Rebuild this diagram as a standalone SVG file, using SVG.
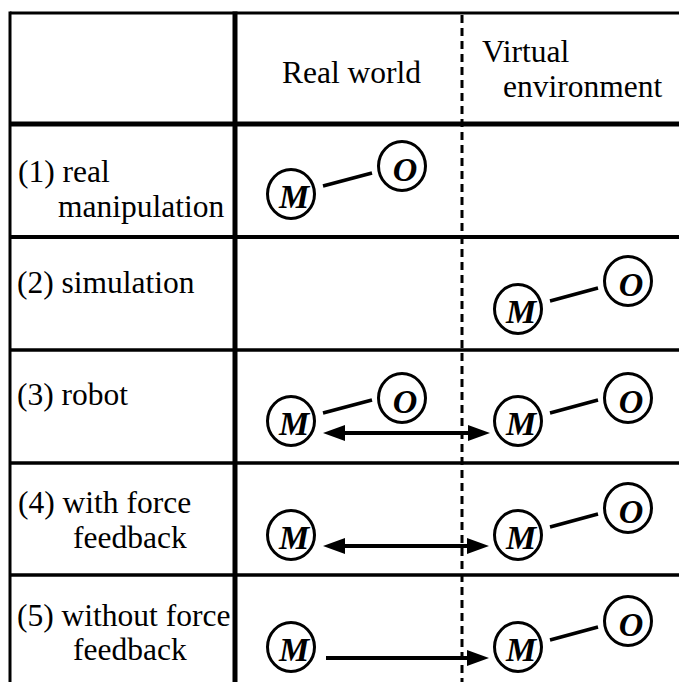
<svg xmlns="http://www.w3.org/2000/svg" width="679" height="682" viewBox="0 0 679 682">
<defs>
<style>
.lbl{font-family:"Liberation Serif","Times New Roman",serif;font-size:31.5px;fill:#000}
.nd ellipse{fill:#fff;stroke:#000;stroke-width:3}
.nd text{font-family:"Liberation Serif","Times New Roman",serif;font-size:34px;font-weight:bold;font-style:italic;text-anchor:middle;fill:#000}
.grid{stroke:#000;fill:none}
.link{stroke:#000;stroke-width:3.5;fill:none}
.arr{stroke:#000;stroke-width:4;fill:none}
</style>
<marker id="ah" viewBox="0 0 22 16" refX="12" refY="8" markerWidth="22" markerHeight="16" markerUnits="userSpaceOnUse" orient="auto-start-reverse">
<path d="M0,0 L22,8 L0,16 z" fill="#000"/>
</marker>
</defs>
<rect width="679" height="682" fill="#fff"/>
<g id="table" class="grid">
<line x1="10" y1="13" x2="679" y2="13" stroke-width="3"/>
<line x1="10" y1="124" x2="679" y2="124" stroke-width="5"/>
<line x1="10" y1="237" x2="679" y2="237" stroke-width="4"/>
<line x1="10" y1="350" x2="679" y2="350" stroke-width="3.5"/>
<line x1="10" y1="463" x2="679" y2="463" stroke-width="3.5"/>
<line x1="10" y1="575" x2="679" y2="575" stroke-width="3.5"/>
<line x1="10" y1="11.5" x2="10" y2="682" stroke-width="3"/>
<line x1="235" y1="11.5" x2="235" y2="682" stroke-width="5"/>
<line x1="462" y1="15" x2="462" y2="682" stroke-width="3" stroke-dasharray="8,5"/>
</g>
<g id="labels" class="lbl">
<text x="282" y="83">Real world</text>
<text x="482" y="62">Virtual</text>
<text x="503" y="97">environment</text>
<text x="18" y="182">(1) real</text>
<text x="58" y="217">manipulation</text>
<text x="17" y="293">(2) simulation</text>
<text x="17" y="405">(3) robot</text>
<text x="18" y="513">(4) with force</text>
<text x="73" y="548">feedback</text>
<text x="17" y="626">(5) without force</text>
<text x="73" y="660">feedback</text>
</g>
<g id="connectors">
<line class="link" x1="323" y1="186" x2="372" y2="173"/>
<line class="link" x1="550" y1="301" x2="598" y2="288"/>
<line class="link" x1="323" y1="413" x2="372" y2="400"/>
<line class="link" x1="550" y1="413" x2="598" y2="400"/>
<line class="link" x1="550" y1="527" x2="598" y2="514"/>
<line class="link" x1="550" y1="640" x2="598" y2="627"/>
<line class="arr" x1="333" y1="433" x2="480" y2="433" marker-start="url(#ah)" marker-end="url(#ah)"/>
<line class="arr" x1="333" y1="546" x2="479" y2="546" marker-start="url(#ah)" marker-end="url(#ah)"/>
<line class="arr" x1="326" y1="658" x2="479" y2="658" marker-end="url(#ah)"/>
</g>
<g id="n1-M" class="nd"><ellipse cx="291" cy="194" rx="23.5" ry="24.5"/><text x="294" y="208">M</text></g>
<g id="n1-O" class="nd"><ellipse cx="402" cy="166" rx="23.5" ry="24.5"/><text x="405" y="181">O</text></g>
<g id="n2-M" class="nd"><ellipse cx="518" cy="309" rx="23.5" ry="24.5"/><text x="521" y="323">M</text></g>
<g id="n2-O" class="nd"><ellipse cx="628" cy="281" rx="23.5" ry="24.5"/><text x="631" y="296">O</text></g>
<g id="n3-Mr" class="nd"><ellipse cx="291" cy="421" rx="23.5" ry="24.5"/><text x="294" y="435">M</text></g>
<g id="n3-Or" class="nd"><ellipse cx="402" cy="398" rx="23.5" ry="24.5"/><text x="405" y="413">O</text></g>
<g id="n3-Mv" class="nd"><ellipse cx="518" cy="421" rx="23.5" ry="24.5"/><text x="521" y="435">M</text></g>
<g id="n3-Ov" class="nd"><ellipse cx="628" cy="398" rx="23.5" ry="24.5"/><text x="631" y="413">O</text></g>
<g id="n4-Mr" class="nd"><ellipse cx="291" cy="535" rx="23.5" ry="24.5"/><text x="294" y="549">M</text></g>
<g id="n4-Mv" class="nd"><ellipse cx="518" cy="535" rx="23.5" ry="24.5"/><text x="521" y="549">M</text></g>
<g id="n4-Ov" class="nd"><ellipse cx="628" cy="508" rx="23.5" ry="24.5"/><text x="631" y="523">O</text></g>
<g id="n5-Mr" class="nd"><ellipse cx="291" cy="647" rx="23.5" ry="24.5"/><text x="294" y="661">M</text></g>
<g id="n5-Mv" class="nd"><ellipse cx="518" cy="647" rx="23.5" ry="24.5"/><text x="521" y="661">M</text></g>
<g id="n5-Ov" class="nd"><ellipse cx="628" cy="621" rx="23.5" ry="24.5"/><text x="631" y="636">O</text></g>
</svg>
